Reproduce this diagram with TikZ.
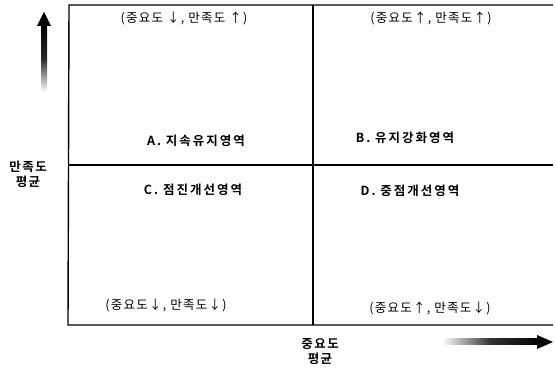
\documentclass[tikz,border=0pt]{standalone}
\usepackage{fontspec}
\setmainfont{Noto Sans CJK KR}
\newfontfamily\krbold{Noto Sans CJK KR Bold}
\begin{document}
\begin{tikzpicture}[x=1pt,y=-1pt,
  gridline/.style={line width=1.4pt,black},
  note/.style={font=\fontsize{12.5}{15}\selectfont\addfontfeature{LetterSpace=10},inner sep=0pt},
  area/.style={font=\krbold\fontsize{12.5}{15}\selectfont\addfontfeature{LetterSpace=16},inner sep=0pt},
  axlabel/.style={font=\krbold\fontsize{12.5}{15}\selectfont\addfontfeature{LetterSpace=12},inner sep=0pt,align=center}]
\useasboundingbox (0,0) rectangle (555,371);
% box corners
\coordinate (tl) at (69,5);
\coordinate (tr) at (553,5);
\coordinate (bl) at (68,325);
\coordinate (br) at (553,325);
\coordinate (ml) at (68,165);
\coordinate (mr) at (553,165);
\coordinate (mt) at (313,5);
\coordinate (mb) at (313,325);
\draw[gridline] (tr) -- (tl) -- (bl) -- (br);
\draw[gridline] (ml) -- (mr);
\draw[gridline] (mt) -- (mb);
% y axis arrow
\shade[top color=black, bottom color=white, middle color=black!85] (41,24) rectangle (47,92);
\fill[black] (37,26) -- (44,12) -- (51,26) -- cycle;
% x axis arrow
\shade[left color=white, right color=black, middle color=black!80] (442,339) rectangle (539,345);
\fill[black] (537,335) -- (553,342) -- (537,349) -- cycle;
% texts
\node[note] (q1) at (184,18) {(중요도 ↓, 만족도 ↑)};
\node[note] (q2) at (431,18) {(중요도↑, 만족도↑)};
\node[note] (q3) at (166,305) {(중요도↓, 만족도↓)};
\node[note] (q4) at (430,308) {(중요도↑, 만족도↓)};
\node[area] (a) at (196,141) {A. 지속유지영역};
\node[area] (b) at (405,138) {B. 유지강화영역};
\node[area] (c) at (193,190) {C. 점진개선영역};
\node[area] (d) at (410,191) {D. 중점개선영역};
\node[axlabel] (ylab) at (28,174) {만족도\\평균};
\node[axlabel] (xlab) at (320,352) {중요도\\평균};
\end{tikzpicture}
\end{document}
